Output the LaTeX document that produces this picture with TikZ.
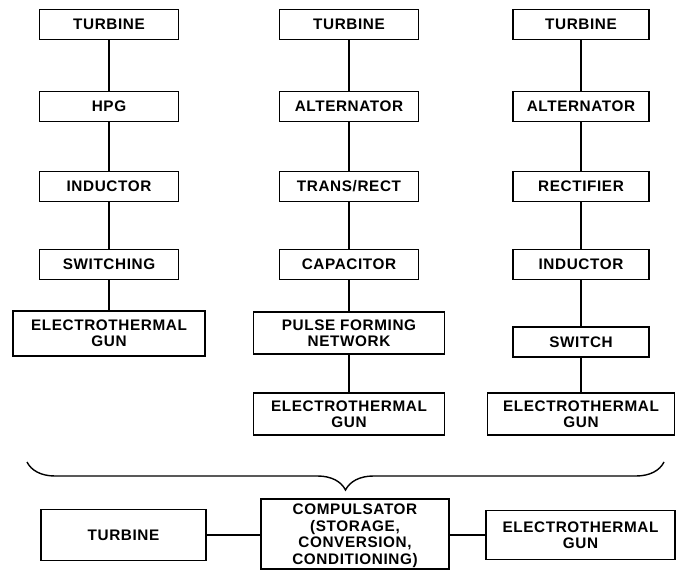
\documentclass[tikz,border=0pt]{standalone}
\usepackage{fontspec}
\setmainfont{Liberation Sans}[LetterSpace=4]
\usepackage{tikz}
\usetikzlibrary{decorations.pathreplacing}

\begin{document}
\begin{tikzpicture}[x=1pt,y=1pt,
  every node/.style={font=\fontsize{15.3}{16}\selectfont\bfseries},
  blk/.style={draw,line width=1.4pt,inner sep=0pt,align=center,minimum height=30pt},
  link/.style={line width=1.4pt}]
\useasboundingbox (0,0) rectangle (684,-572);
% first chain
\node[blk,minimum width=139pt] (ta) at (109,-24.5) {TURBINE};
\node[blk,minimum width=139pt] (hpga) at (109,-106.5) {HPG};
\node[blk,minimum width=139pt] (inda) at (109,-186.5) {INDUCTOR};
\node[blk,minimum width=139pt] (swa) at (109,-264.5) {SWITCHING};
\node[blk,minimum width=192pt,minimum height=45pt] (guna) at (109,-333.5) {ELECTROTHERMAL\\GUN};
\draw[link] (ta) -- (hpga) (hpga) -- (inda) (inda) -- (swa) (swa) -- (guna);
% second chain
\node[blk,minimum width=139pt] (tb) at (349,-24.5) {TURBINE};
\node[blk,minimum width=139pt] (altb) at (349,-106.5) {ALTERNATOR};
\node[blk,minimum width=139pt] (trb) at (349,-186.5) {TRANS/RECT};
\node[blk,minimum width=139pt] (capb) at (349,-264.5) {CAPACITOR};
\node[blk,minimum width=191pt,minimum height=42pt] (pfnb) at (349,-333) {PULSE FORMING\\NETWORK};
\node[blk,minimum width=191pt,minimum height=42pt] (gunb) at (349,-414) {ELECTROTHERMAL\\GUN};
\draw[link] (tb) -- (altb) (altb) -- (trb) (trb) -- (capb) (capb) -- (pfnb) (pfnb) -- (gunb);
% third chain
\node[blk,minimum width=136pt] (tc) at (581,-24.5) {TURBINE};
\node[blk,minimum width=136pt] (altc) at (581,-106.5) {ALTERNATOR};
\node[blk,minimum width=136pt] (rectc) at (581,-186.5) {RECTIFIER};
\node[blk,minimum width=136pt] (indc) at (581,-264.5) {INDUCTOR};
\node[blk,minimum width=136pt] (swc) at (581,-342) {SWITCH};
\node[blk,minimum width=187pt,minimum height=42pt] (gunc) at (581,-414) {ELECTROTHERMAL\\GUN};
\draw[link] (tc) -- (altc) (altc) -- (rectc) (rectc) -- (indc) (indc) -- (swc) (swc) -- (gunc);
% brace
\draw[link,decorate,decoration={brace,mirror,amplitude=28pt}] (27,-462) -- (664,-462);
% combined system
\node[blk,minimum width=165pt,minimum height=51pt] (tz) at (123.5,-535) {TURBINE};
\node[blk,minimum width=188pt,minimum height=70pt,text height=60pt,text depth=0pt,
  font=\fontsize{15.3}{16.5}\selectfont\bfseries] (comp) at (355,-534)
  {COMPULSATOR\\(STORAGE,\\CONVERSION,\\CONDITIONING)};
\node[blk,minimum width=189pt,minimum height=49pt] (gunz) at (580.5,-535) {ELECTROTHERMAL\\GUN};
\draw[link] (tz) -- (tz -| comp.west) (comp.east |- gunz) -- (gunz);
\end{tikzpicture}
\end{document}
